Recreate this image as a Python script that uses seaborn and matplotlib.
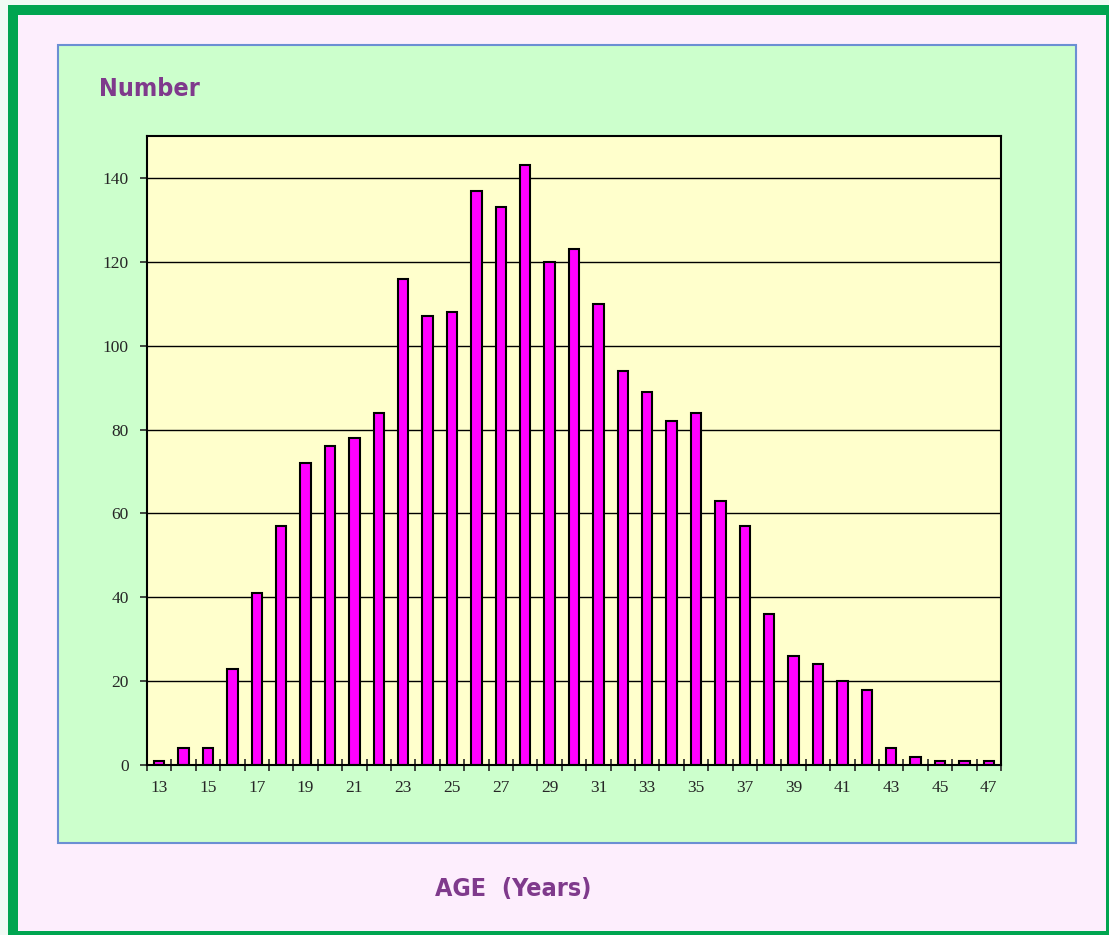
import numpy as np
import pandas as pd
import matplotlib.pyplot as plt
from matplotlib.patches import Rectangle
import seaborn as sns

sns.set_style("ticks")
plt.rcParams['font.family'] = ['Liberation Serif', 'DejaVu Serif']

ages = list(range(13, 48))
counts = [1, 4, 4, 23, 41, 57, 72, 76, 78, 84,
          116, 107, 108, 137, 133, 143, 120, 123, 110, 94,
          89, 82, 84, 63, 57, 36, 26, 24, 20, 18,
          4, 2, 1, 1, 1]
y_ticks = [0, 20, 40, 60, 80, 100, 120, 140]

df = pd.DataFrame({"age": ages, "count": counts})

W, H = 1109, 935
fig = plt.figure(figsize=(W / 100, H / 100), dpi=100)
fig.patch.set_facecolor("#f0faf4")


def px_rect(x0, y0, x1, y1, **kw):
    # rectangle given in pixel coords (top-left origin), drawn behind the axes
    r = Rectangle((x0 / W, 1 - y1 / H), (x1 - x0) / W, (y1 - y0) / H,
                  transform=fig.transFigure, figure=fig, zorder=-5, **kw)
    fig.patches.append(r)


px_rect(8, 5, 1109, 935, facecolor="#00a550", edgecolor="none")
px_rect(18, 15, 1106, 931, facecolor="#fdeefd", edgecolor="none")
px_rect(58, 45, 1076, 843, facecolor="#ccffcc", edgecolor="#6b8fd3", linewidth=1.5)

ax = fig.add_axes([147 / W, 1 - 765 / H, (1001 - 147) / W, (765 - 136) / H])
ax.set_facecolor("#ffffcc")
sns.barplot(data=df, x="age", y="count", color="#ff00ff", saturation=1,
            width=0.42, edgecolor="black", linewidth=1.5, ax=ax)

ax.set_xlim(-0.5, len(ages) - 0.5)
ax.set_ylim(0, 150)
ax.set_yticks(y_ticks)
ax.yaxis.grid(True, color="black", linewidth=1)
ax.set_axisbelow(True)
ax.set_xlabel("")
ax.set_ylabel("")

# labels under every other bar, tick marks between bars
ax.set_xticks(range(0, len(ages), 2))
ax.set_xticklabels(ages[::2])
ax.set_xticks(np.arange(-0.5, len(ages), 1), minor=True)
ax.tick_params(axis="x", which="major", length=0, pad=11, labelsize=12.5)
ax.tick_params(axis="x", which="minor", length=9, direction="inout", width=1.2)
ax.tick_params(axis="y", length=5, width=1.2, pad=8, labelsize=12.5)

for s in ax.spines.values():
    s.set_visible(True)
    s.set_color("black")
    s.set_linewidth(1.5)

title_font = dict(family=['DejaVu Sans'], stretch="condensed",
                  weight="bold", size=18, color="#7f3a8c")
fig.text(99 / W, 1 - 89 / H, "Number", ha="left", va="center", **title_font)
fig.text(513 / W, 1 - 889 / H, "AGE  (Years)", ha="center", va="center", **title_font)

fig.savefig("out.png", dpi=100, facecolor=fig.get_facecolor())
